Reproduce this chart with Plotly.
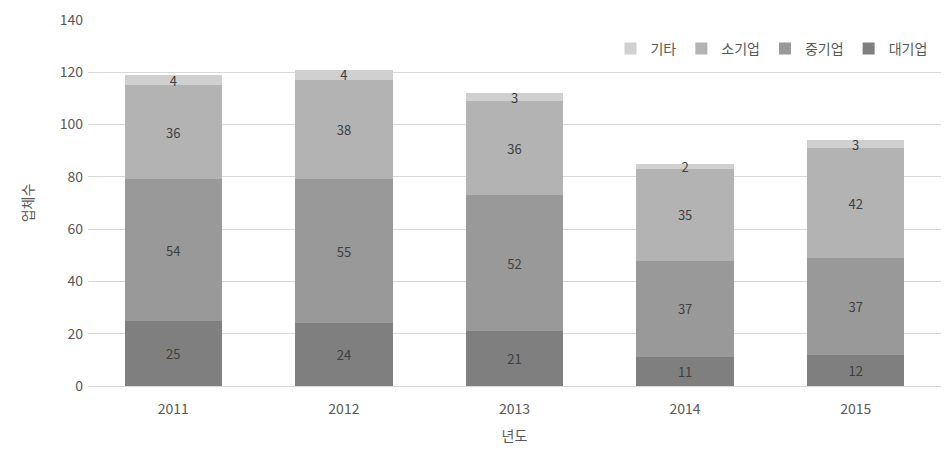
import plotly.graph_objects as go

years = ["2011", "2012", "2013", "2014", "2015"]
large = [25, 24, 21, 11, 12]
medium = [54, 55, 52, 37, 37]
small = [36, 38, 36, 35, 42]
other = [4, 4, 3, 2, 3]

series = [
    ("대기업", large, "#7f7f7f"),
    ("중기업", medium, "#999999"),
    ("소기업", small, "#b3b3b3"),
    ("기타", other, "#d0d0d0"),
]

font = "Noto Sans CJK KR, Noto Sans, sans-serif"
fig = go.Figure()
for name, vals, color in series:
    fig.add_trace(go.Bar(
        x=years, y=vals, name=name,
        marker=dict(color=color, line=dict(width=0)),
        text=vals, textposition="inside", insidetextanchor="middle", textangle=0,
        textfont=dict(size=13, color="#404040", family=font),
        constraintext="none",
    ))

fig.update_layout(
    barmode="stack",
    bargap=0.43,
    width=950, height=457,
    margin=dict(l=88, r=9, t=16, b=71),
    plot_bgcolor="white", paper_bgcolor="white",
    font=dict(family=font, size=13, color="#595959"),
    uniformtext=dict(minsize=13, mode="show"),
    legend=dict(orientation="h", traceorder="reversed", x=0.99, xanchor="right",
                y=0.965, yanchor="top", font=dict(size=14, color="#595959"),
                bgcolor="rgba(0,0,0,0)", itemwidth=30),
    xaxis=dict(title=dict(text="년도", font=dict(size=14, color="#595959"), standoff=14),
               showline=True, linecolor="#d9d9d9", ticks="", ticklabelstandoff=10,
               tickfont=dict(size=14)),
    yaxis=dict(title=dict(text="업체수", font=dict(size=14, color="#595959"), standoff=22),
               range=[0, 140], dtick=20, gridcolor="#d9d9d9", zeroline=False,
               tickfont=dict(size=14), ticklabelstandoff=4),
)

fig.write_html("out.html")
